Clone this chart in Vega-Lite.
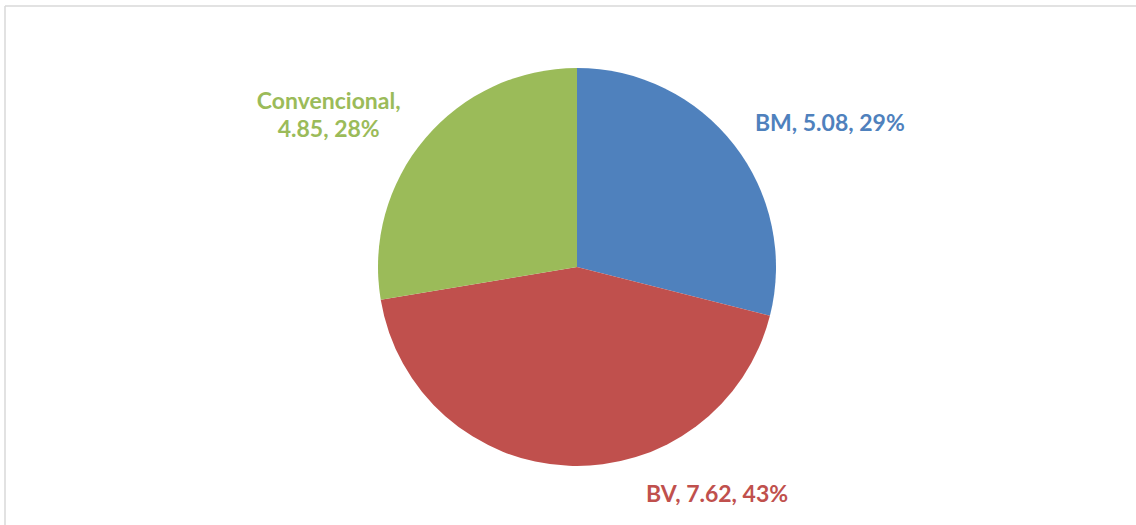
{
  "$schema": "https://vega.github.io/schema/vega-lite/v6.json",
  "autosize": "none",
  "width": 1144,
  "height": 522,
  "padding": {"left": 5, "top": 6, "right": 0, "bottom": 0},
  "background": "white",
  "view": {"stroke": "#D9D9D9", "strokeWidth": 1.5, "strokeDash": [1144, 1666, 522, 0]},
  "data": {
    "values": [
      {"cat": "BM", "value": 5.08, "label": "BM, 5.08, 29%"},
      {"cat": "BV", "value": 7.62, "label": "BV, 7.62, 43%"},
      {"cat": "Convencional", "value": 4.85, "label": "Convencional,\n4.85, 28%"}
    ]
  },
  "encoding": {
    "theta": {"field": "value", "type": "quantitative", "stack": true},
    "color": {
      "field": "cat",
      "type": "nominal",
      "scale": {"domain": ["BM", "BV", "Convencional"], "range": ["#4F81BD", "#C0504D", "#9BBB59"]},
      "legend": null
    },
    "order": {"field": "cat", "type": "nominal", "sort": "ascending"}
  },
  "layer": [
    {"mark": {"type": "arc", "outerRadius": 199}},
    {
      "mark": {"type": "text", "radius": 290, "dx": 24, "dy": 35, "font": "Lato", "fontWeight": "bold", "fontSize": 23, "align": "center", "baseline": "middle"},
      "encoding": {"text": {"condition": {"test": "datum.cat === 'BM'", "field": "label"}, "value": ""}}
    },
    {
      "mark": {"type": "text", "radius": 290, "dx": 152, "dy": -62, "font": "Lato", "fontWeight": "bold", "fontSize": 23, "align": "center", "baseline": "middle"},
      "encoding": {"text": {"condition": {"test": "datum.cat === 'BV'", "field": "label"}, "value": ""}}
    },
    {
      "mark": {"type": "text", "radius": 290, "dx": -27, "dy": 22, "font": "Lato", "fontWeight": "bold", "fontSize": 23, "align": "center", "baseline": "middle", "lineBreak": "\n", "lineHeight": 28},
      "encoding": {"text": {"condition": {"test": "datum.cat === 'Convencional'", "field": "label"}, "value": ""}}
    }
  ]
}
